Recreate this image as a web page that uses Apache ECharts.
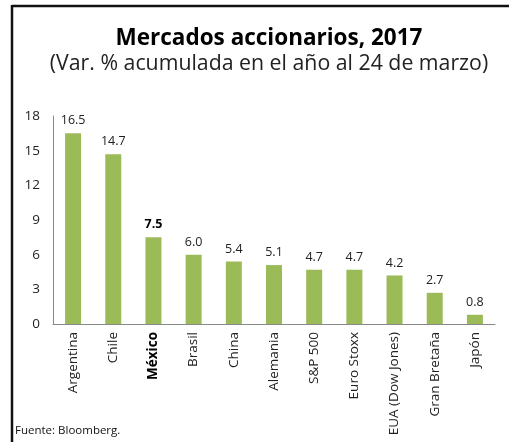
<!DOCTYPE html>
<html>
<head>
<meta charset="utf-8">
<script src="https://cdn.jsdelivr.net/npm/echarts@6/dist/echarts.min.js"></script>
<style>
  html, body { margin: 0; padding: 0; background: #fff; }
  #chart { width: 509px; height: 442px; }
</style>
</head>
<body>
<div id="chart"></div>
<script>
const categories = ['Argentina', 'Chile', 'México', 'Brasil', 'China', 'Alemania',
  'S&P 500', 'Euro Stoxx', 'EUA (Dow Jones)', 'Gran Bretaña', 'Japón'];
const values = [16.5, 14.7, 7.5, 6.0, 5.4, 5.1, 4.7, 4.7, 4.2, 2.7, 0.8];
const highlight = 'México';

const font = '"Open Sans", "Noto Sans", sans-serif';
let chart = echarts.init(document.getElementById('chart'));

const chartOptions = {
  animation: false,
  title: {
    text: 'Mercados accionarios, 2017',
    subtext: '(Var. % acumulada en el año al 24 de marzo)',
    left: 264,
    top: 22,
    textAlign: 'center',
    itemGap: 3,
    textStyle: { fontFamily: font, fontSize: 22.5, fontWeight: 'bold', color: '#000' },
    subtextStyle: { fontFamily: font, fontSize: 21.3, color: '#222' }
  },
  grid: { left: 53, right: 14, top: 116, bottom: 118 },
  xAxis: {
    type: 'category',
    data: categories,
    axisLine: { lineStyle: { color: '#888' } },
    axisTick: { show: false },
    axisLabel: {
      rotate: 90,
      interval: 0,
      margin: 8,
      fontFamily: font,
      fontSize: 13.5,
      color: '#222',
      formatter: function (v) {
        return v === highlight ? '{b|' + v + '}' : v;
      },
      rich: { b: { fontFamily: font, fontSize: 13.5, fontWeight: 'bold', color: '#000' } }
    }
  },
  yAxis: {
    type: 'value',
    min: 0,
    max: 18,
    interval: 3,
    axisLine: { show: true, lineStyle: { color: '#888' } },
    axisTick: { show: false },
    splitLine: { show: false },
    axisLabel: { margin: 13, fontFamily: font, fontSize: 13.5, color: '#222' }
  },
  series: [{
    type: 'bar',
    barWidth: 16,
    data: values.map(function (v, i) {
      const item = { value: v };
      if (categories[i] === highlight) {
        item.label = { fontWeight: 'bold', color: '#000' };
      }
      return item;
    }),
    itemStyle: { color: '#9BBB59' },
    label: {
      show: true,
      position: 'top',
      distance: 6,
      fontFamily: font,
      fontSize: 12.5,
      color: '#222',
      formatter: function (p) { return p.value.toFixed(1); }
    }
  }],
  graphic: [
    { type: 'line', shape: { x1: 12, y1: 6, x2: 509, y2: 6 }, style: { stroke: '#111', lineWidth: 2.5 } },
    { type: 'line', shape: { x1: 12, y1: 5, x2: 12, y2: 442 }, style: { stroke: '#111', lineWidth: 2.5 } },
    {
      type: 'text', left: 15, top: 425,
      style: { text: 'Fuente: Bloomberg.', font: '11.5px ' + font, fill: '#111' }
    }
  ]
};
chart.setOption(chartOptions);
</script>
</body>
</html>
